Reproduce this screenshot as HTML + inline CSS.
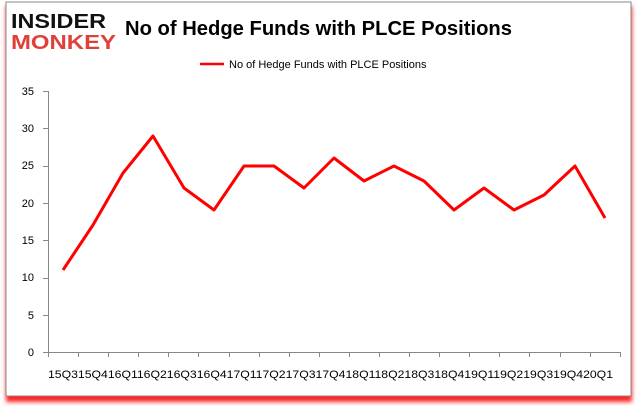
<!DOCTYPE html>
<html><head><style>
body{margin:0;width:637px;height:408px;background:#fff;overflow:hidden;font-family:"Liberation Sans",sans-serif}
</style></head><body>
<svg width="637" height="408" xmlns="http://www.w3.org/2000/svg">
<defs><filter id="s" x="-5%" y="-5%" width="110%" height="115%"><feGaussianBlur stdDeviation="2"/></filter></defs>
<rect x="6" y="6" width="626" height="396" fill="#ff2020" filter="url(#s)"/>
<rect x="6" y="2" width="625" height="394" fill="#fff" stroke="#888" stroke-width="1"/>
<text x="11" y="28" font-size="20" font-weight="bold" fill="#111" textLength="95" lengthAdjust="spacingAndGlyphs">INSIDER</text>
<text x="11" y="49" font-size="20" font-weight="bold" fill="#e0403a" textLength="105" lengthAdjust="spacingAndGlyphs">MONKEY</text>
<text x="125" y="35" font-size="20" font-weight="bold" fill="#000" textLength="387" lengthAdjust="spacingAndGlyphs">No of Hedge Funds with PLCE Positions</text>
<line x1="200" y1="64" x2="224" y2="64" stroke="#f00" stroke-width="2.5"/>
<text x="229" y="68" font-size="11" fill="#000">No of Hedge Funds with PLCE Positions</text>
<g font-size="11" fill="#000" text-anchor="end">
<text x="34" y="356">0</text><text x="34" y="319">5</text><text x="34" y="281">10</text><text x="34" y="244">15</text><text x="34" y="207">20</text><text x="34" y="169">25</text><text x="34" y="132">30</text><text x="34" y="95">35</text>
</g>
<g stroke="#888" stroke-width="1">
<line x1="48.5" y1="91" x2="48.5" y2="352"/>
<line x1="43" y1="352.5" x2="620" y2="352.5"/>
<line x1="43" y1="91.5" x2="48" y2="91.5"/><line x1="43" y1="128.5" x2="48" y2="128.5"/><line x1="43" y1="166.5" x2="48" y2="166.5"/><line x1="43" y1="203.5" x2="48" y2="203.5"/><line x1="43" y1="240.5" x2="48" y2="240.5"/><line x1="43" y1="278.5" x2="48" y2="278.5"/><line x1="43" y1="315.5" x2="48" y2="315.5"/>
</g>
<text x="48" y="378" font-size="11" fill="#000" textLength="565" lengthAdjust="spacingAndGlyphs">15Q315Q416Q116Q216Q316Q417Q117Q217Q317Q418Q118Q218Q318Q419Q119Q219Q319Q420Q1</text>
<polyline fill="none" stroke="#f00" stroke-width="3" stroke-linejoin="round" points="63,270 93,225 123,173 153,136 184,188 214,210 244,166 274,166 304,188 334,158 364,181 394,166 424,181 454,210 484,188 514,210 544,195 575,166 605,218"/>
<g stroke="#888"><line x1="78.5" y1="352" x2="78.5" y2="357"/><line x1="108.5" y1="352" x2="108.5" y2="357"/><line x1="138.5" y1="352" x2="138.5" y2="357"/><line x1="168.5" y1="352" x2="168.5" y2="357"/><line x1="198.5" y1="352" x2="198.5" y2="357"/><line x1="229.5" y1="352" x2="229.5" y2="357"/><line x1="259.5" y1="352" x2="259.5" y2="357"/><line x1="289.5" y1="352" x2="289.5" y2="357"/><line x1="319.5" y1="352" x2="319.5" y2="357"/><line x1="349.5" y1="352" x2="349.5" y2="357"/><line x1="379.5" y1="352" x2="379.5" y2="357"/><line x1="409.5" y1="352" x2="409.5" y2="357"/><line x1="439.5" y1="352" x2="439.5" y2="357"/><line x1="469.5" y1="352" x2="469.5" y2="357"/><line x1="499.5" y1="352" x2="499.5" y2="357"/><line x1="529.5" y1="352" x2="529.5" y2="357"/><line x1="560.5" y1="352" x2="560.5" y2="357"/><line x1="590.5" y1="352" x2="590.5" y2="357"/><line x1="620.5" y1="352" x2="620.5" y2="357"/><line x1="48.5" y1="352" x2="48.5" y2="357"/></g>
</svg>
</body></html>
